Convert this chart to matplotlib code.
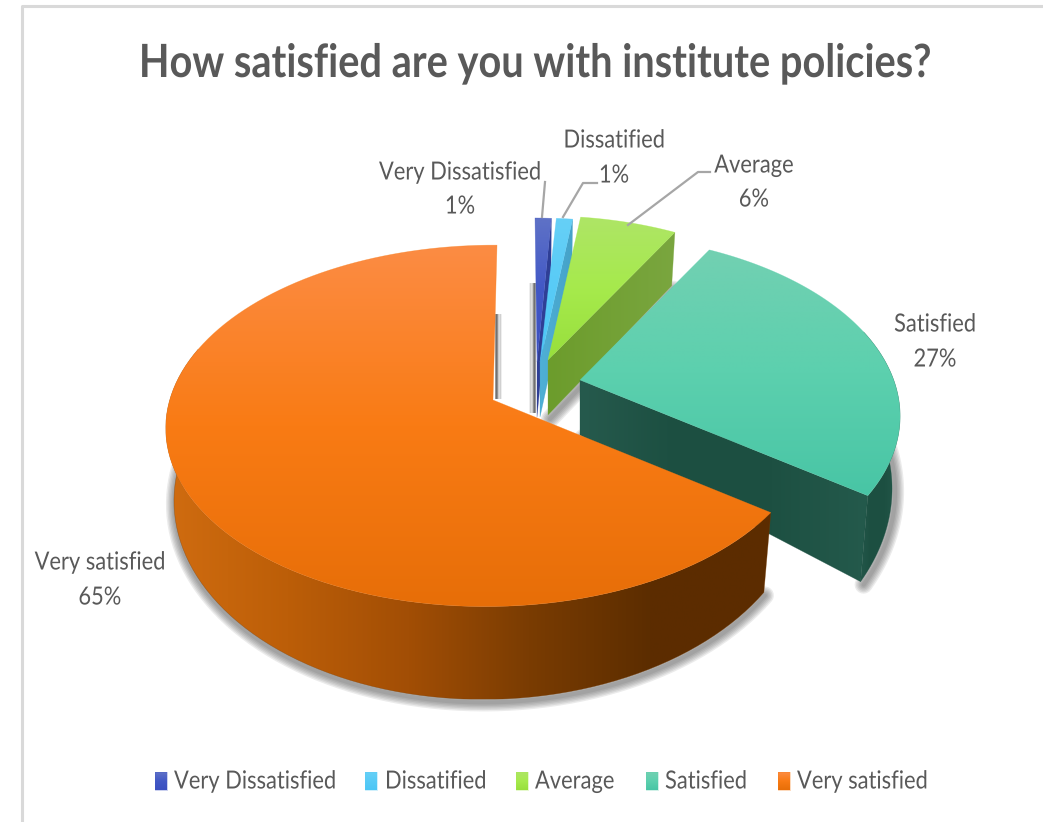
import matplotlib
matplotlib.use('Agg')
import matplotlib.pyplot as plt
from matplotlib.colors import LinearSegmentedColormap
from matplotlib.patches import Polygon
from matplotlib.patheffects import AbstractPathEffect
from matplotlib.transforms import Affine2D
import numpy as np

plt.rcParams['font.family'] = ['Lato', 'DejaVu Sans']

title = 'How satisfied are you with institute policies?'
categories = ['Very Dissatisfied', 'Dissatified', 'Average', 'Satisfied', 'Very satisfied']
values = [1, 1, 6, 27, 65]

# where each exploded slice has its tip, and a size factor
apex_x = [537, 540, 548, 580, 493]
apex_y = [362, 362, 360, 380, 400]
scale = [0.93, 0.93, 0.93, 0.99, 1.0]
persp = [0.143, 0.143, 0.143, 0.2, 0.143]
lean = [-2, 0, 0, 0, 4]

top_colors = [
    ['#5f72c6', '#4258c6', '#3a4fc0'],
    ['#66d0f6', '#58cbf7', '#4cc6f5'],
    ['#aee566', '#a6ea4c', '#98df3c'],
    ['#72d0b2', '#5cd0ae', '#48c5a5'],
    ['#fc8c44', '#f97b14', '#e76e08'],
]
wall_colors = [
    ['#2f3f96', '#2f3f96'],
    ['#4fb0d6', '#45a2c8'],
    ['#6c9c2c', '#7aa63f'],
    ['#265a4d', '#1c4f41', '#1d5042', '#245a4c'],
    ['#d06c10', '#bc5e08', '#a24e05', '#7a3c02', '#5c2d00', '#5c2c00'],
]
text_color = '#595959'

R, S, M = 320.0, 177.0, 0.01


class Squeeze(AbstractPathEffect):
    # the reference text is horizontally condensed
    def __init__(self, sx, centered):
        super().__init__()
        self.sx = sx
        self.centered = centered

    def draw_path(self, renderer, gc, tpath, affine, rgbFace=None):
        box = tpath.get_extents()
        c = (box.x0 + box.x1) / 2 if self.centered else 0.0
        squeeze = Affine2D().translate(-c, 0).scale(self.sx, 1.0).translate(c, 0)
        renderer.draw_path(gc, tpath, squeeze + affine, rgbFace)


def project(theta, r, i, z=0.0):
    t = np.radians(theta)
    u = r * np.sin(t)
    v = r * np.cos(t)
    w = 1 + persp[i] * v + M * u
    x = (R * scale[i] * u / w + lean[i] * v) * (1 - 0.025 * z)
    y = -S * scale[i] * v / w
    depth = 55 * (1 + 0.24 * r) / w ** 2
    return apex_x[i] + x, apex_y[i] + y + z * depth


def gradient_fill(ax, pts, colors, vertical, zorder):
    pts = np.asarray(pts)
    cmap = LinearSegmentedColormap.from_list('g', colors)
    ramp = cmap(np.linspace(0, 1, 256))[:, :3]
    arr = ramp[:, None, :] if vertical else ramp[None, :, :]
    l, r = pts[:, 0].min(), pts[:, 0].max()
    t, b = pts[:, 1].min(), pts[:, 1].max()
    patch = Polygon(pts, closed=True, fc='none', ec='none', zorder=zorder)
    ax.add_patch(patch)
    im = ax.imshow(arr, extent=(l, r, b, t), aspect='auto', origin='upper',
                   interpolation='bilinear', zorder=zorder)
    im.set_clip_path(patch)
    # soften the hard clip edge
    ax.add_patch(Polygon(pts, closed=True, fc='none', ec=colors[len(colors) // 2],
                         lw=0.4, alpha=0.5, zorder=zorder))


def soft_shadow(ax, xs, ys, dx, dy):
    for lw in (13, 11, 9, 7, 5, 3):
        ax.plot(np.asarray(xs) + dx, np.asarray(ys) + dy, color='#404040', alpha=0.1, lw=lw,
                solid_capstyle='round', solid_joinstyle='round', zorder=5)


def label(x, y, s, size, sx, centered=True, **kw):
    t = ax.text(x, y, s, fontsize=size, color=text_color, ha='center' if centered else 'left',
                va='center', zorder=50, **kw)
    t.set_path_effects([Squeeze(sx, centered)])
    return t


fig = plt.figure(figsize=(10.43, 8.22), dpi=100)
ax = fig.add_axes([0, 0, 1, 1])
ax.axis('off')

# chart frame
ax.plot([22, 22, 1043], [822, 6, 6], color='#d9d9d9', lw=2.2, zorder=1)

edges = np.cumsum([0] + values) / np.sum(values) * 360.0

z = 10
for i in range(len(values)):
    th = np.linspace(edges[i], edges[i + 1], 120)
    xt, yt = project(th, 1.0, i)
    xb, yb = project(th, 1.0, i, 1.0)
    x0, y0 = project(0.0, 0.0, i)
    x0b, y0b = project(0.0, 0.0, i, 1.0)

    top = list(zip(xt, yt)) + [(x0, y0)]
    side = [(x0, y0), (xt[-1], yt[-1]), (xb[-1], yb[-1]), (x0b, y0b)]

    cos_th = np.cos(np.radians(th))
    front = cos_th < 0.05
    seen = cos_th < 0.3
    outer = list(zip(xt[seen], yt[seen])) + list(zip(xb[seen][::-1], yb[seen][::-1]))

    if i == 2:
        soft_shadow(ax, [x0b, xb[-1]], [y0b, yb[-1]], 2, 4)
    if i == 3:
        soft_shadow(ax, np.r_[x0b, xb[front]], np.r_[y0b, yb[front]], 3, 3)
    if i == 4:
        soft_shadow(ax, xb[front], yb[front], 1, 3)

    if i < 4:
        gradient_fill(ax, side, wall_colors[i], False, z + 1)
    if i >= 3:
        gradient_fill(ax, outer, wall_colors[i], False, z + 1)
    gradient_fill(ax, top, top_colors[i], True, z + 2)
    z += 3

# dark streaks next to the inner edges, fading away from the slice
for x0, step, y0, y1 in [(535, -1.2, 284, 412), (496, 1.2, 315, 398)]:
    for k, a in enumerate([0.5, 0.38, 0.26, 0.16, 0.08]):
        ax.plot([x0 + k * step] * 2, [y0, y1], color='#303030', alpha=a, lw=1.4, zorder=6)

# leader lines
leaders = [
    [(545, 182), (542, 217)],
    [(597, 183), (583, 183), (563, 217)],
    [(710, 172), (698, 172), (628, 225)],
]
for line in leaders:
    xs, ys = zip(*line)
    ax.plot(xs, ys, color='#a6a6a6', lw=1.6, zorder=40)

# callouts
label_x = [460, 614, 754, 935, 100]
name_y = [172, 140, 165, 324, 562]
pct_y = [206, 175, 199, 359, 597]
for i in range(len(values)):
    label(label_x[i], name_y[i], categories[i], 18, 0.875)
    label(label_x[i], pct_y[i], '%d%%' % values[i], 18, 0.875)

label(536, 64, title, 33, 0.867, fontweight='bold')

# legend
key_x = [155, 365, 516, 646, 778]
text_x = [174, 385, 535, 665, 797]
for i, name in enumerate(categories):
    gradient_fill(ax, [(key_x[i], 772), (key_x[i] + 12, 772), (key_x[i] + 12, 790), (key_x[i], 790)],
                  top_colors[i], True, 30)
    label(text_x[i], 781, name, 18, 0.875, centered=False)

ax.set_xlim(0, 1043)
ax.set_ylim(822, 0)

fig.savefig('out.png', dpi=100, facecolor='white')
